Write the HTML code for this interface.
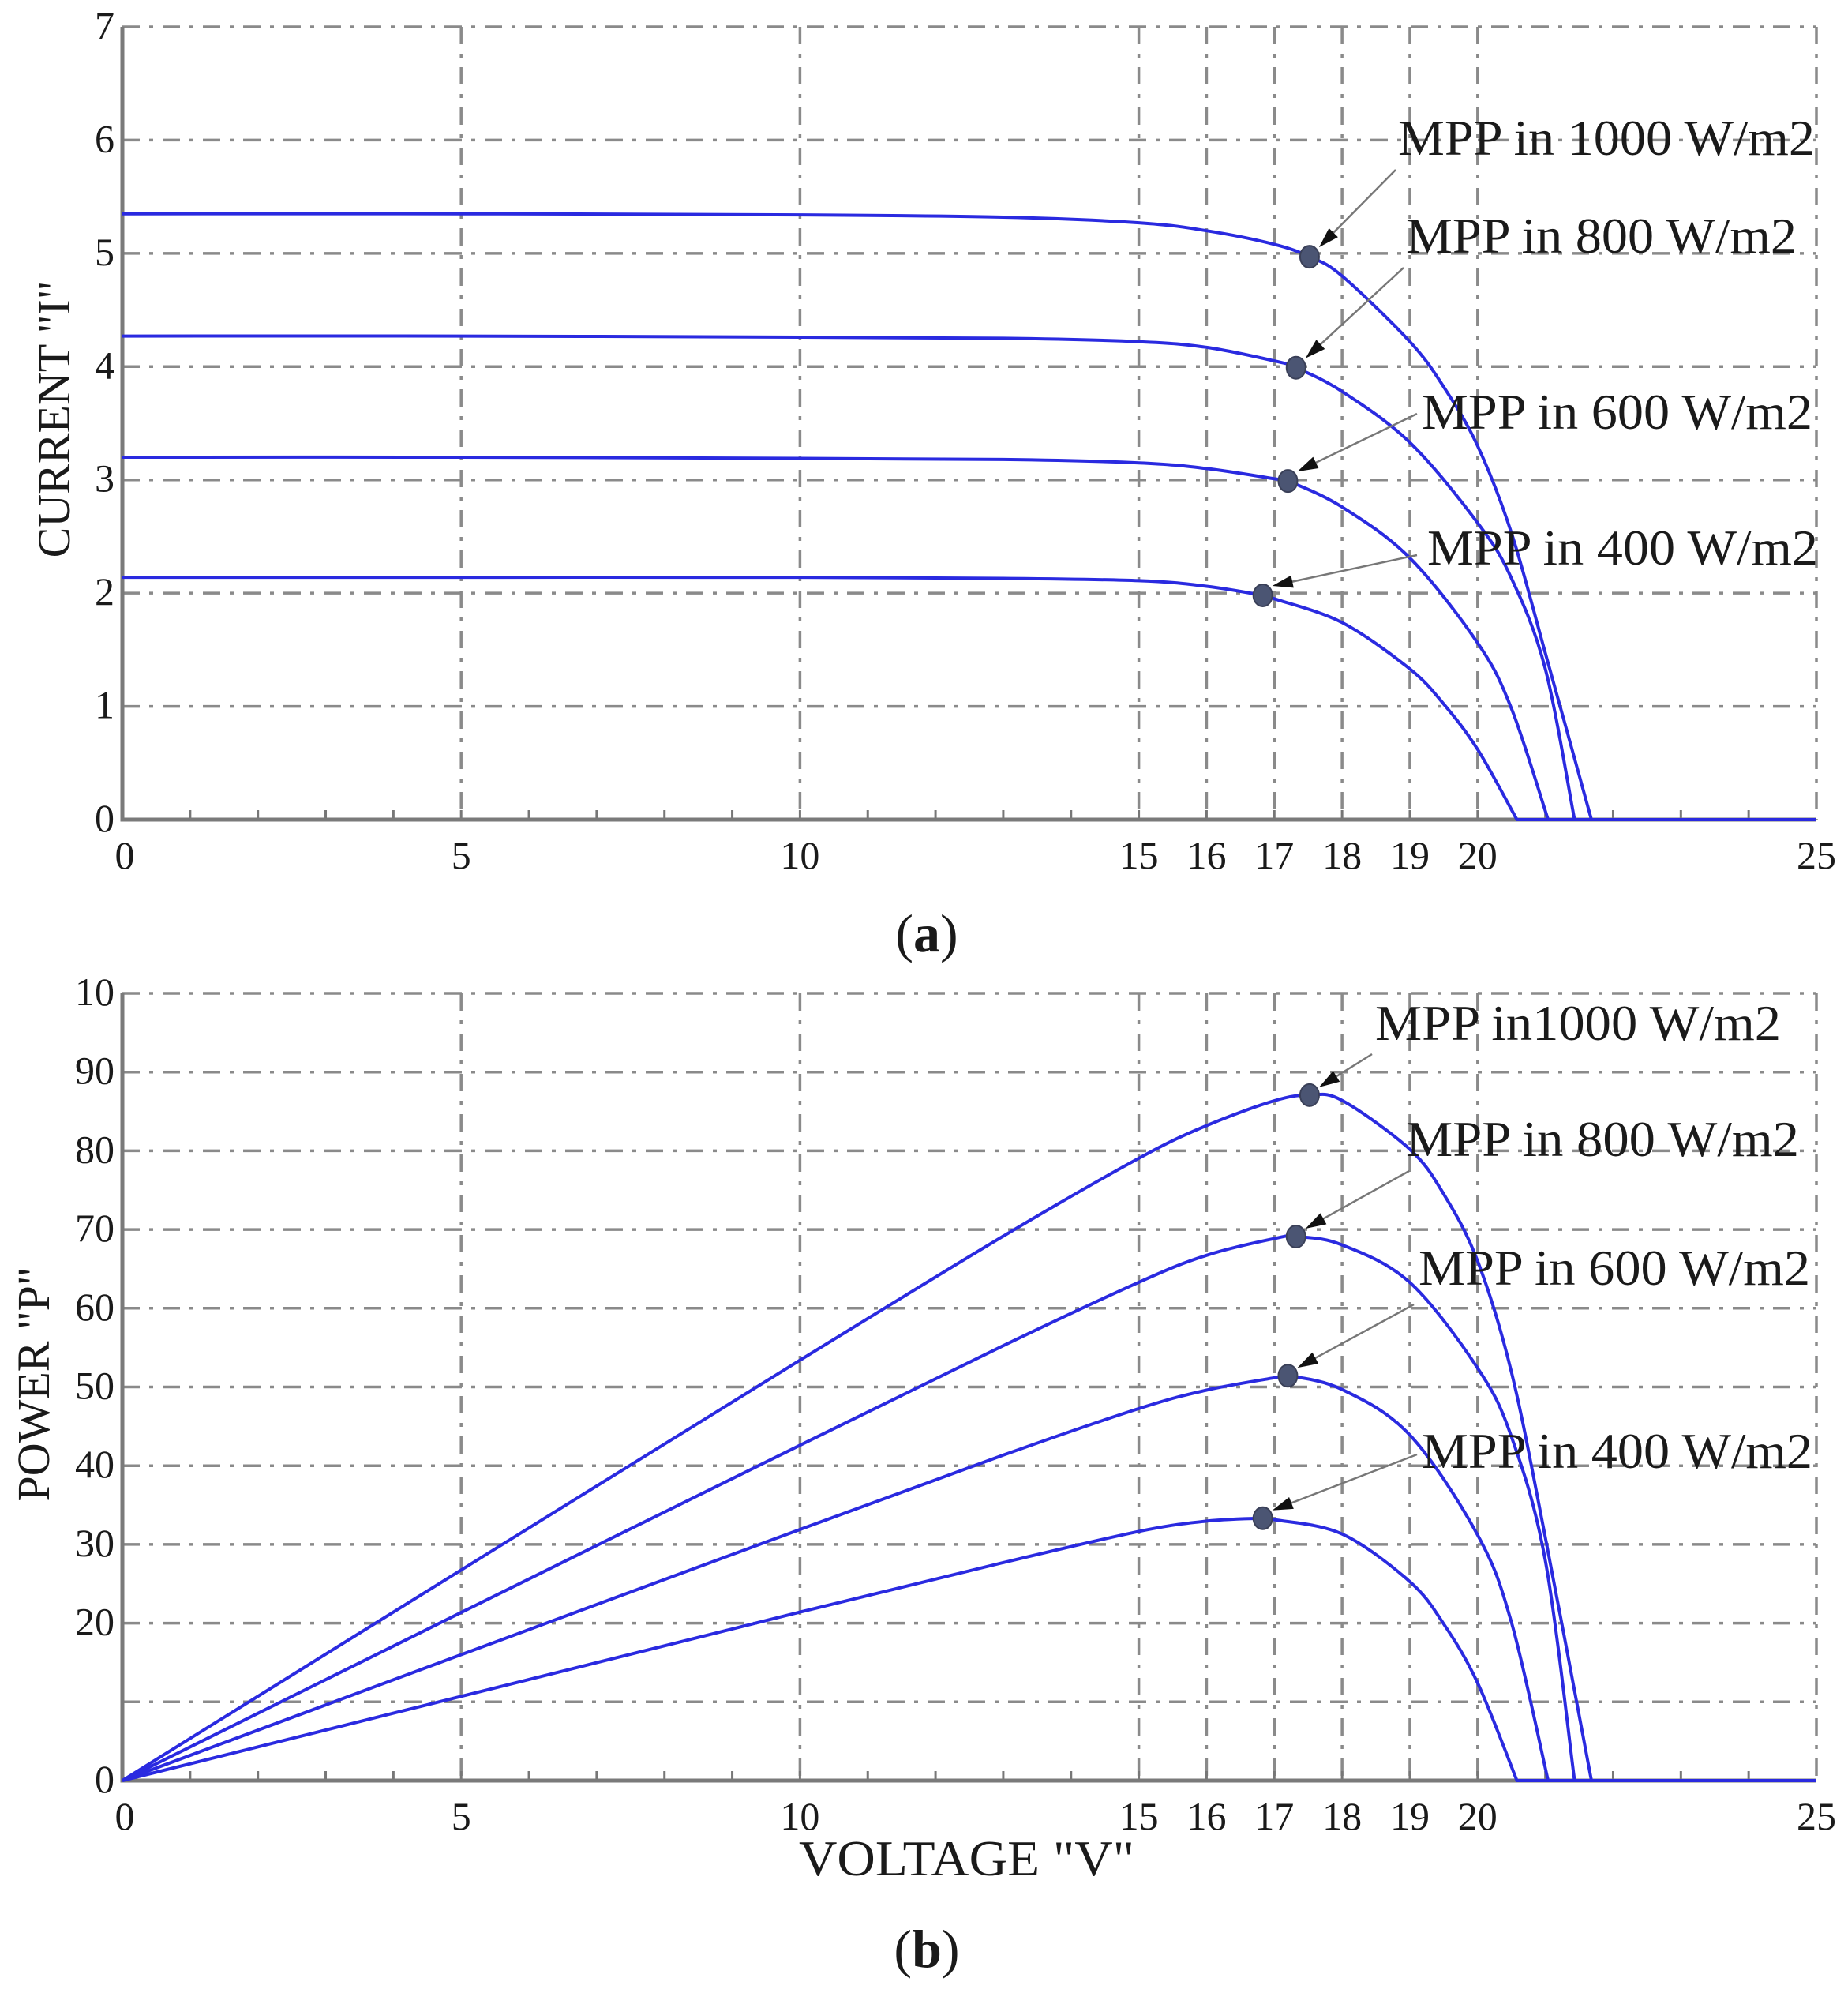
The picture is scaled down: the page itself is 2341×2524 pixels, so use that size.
<!DOCTYPE html>
<html><head><meta charset="utf-8">
<style>
html,body{margin:0;padding:0;background:#fff;}
svg{display:block;}
text{font-family:"Liberation Serif",serif;fill:#1a1a1a;}
</style></head>
<body>
<svg id="chart" width="2341" height="2524" viewBox="0 0 2341 2524" xmlns="http://www.w3.org/2000/svg">
<rect x="0" y="0" width="2341" height="2524" fill="#fff"/>
</svg>
<script>
// ---- data ----
const irradianceLabels = ["1000", "800", "600", "400"];
const v1000 = [0, 5, 10, 13, 15, 16, 17, 17.52, 18, 19, 19.5, 20, 20.5, 21, 21.68];
const i1000 = [5.35, 5.35, 5.34, 5.32, 5.27, 5.2, 5.08, 4.97, 4.8, 4.22, 3.82, 3.3, 2.53, 1.47, 0];
const v800 = [0, 5, 10, 13, 15, 16, 17, 17.32, 18, 19, 20, 20.5, 21, 21.43];
const i800 = [4.27, 4.27, 4.26, 4.25, 4.22, 4.17, 4.05, 3.99, 3.78, 3.33, 2.62, 2.13, 1.33, 0];
const v600 = [0, 5, 10, 13, 15, 16, 17, 17.2, 18, 19, 20, 20.5, 21.04];
const i600 = [3.2, 3.2, 3.19, 3.18, 3.15, 3.1, 3.01, 2.99, 2.76, 2.31, 1.56, 0.98, 0];
const v400 = [0, 5, 10, 13, 15, 16, 16.83, 17, 18, 19, 19.5, 20, 20.58];
const i400 = [2.14, 2.14, 2.14, 2.13, 2.11, 2.06, 1.98, 1.95, 1.74, 1.33, 1.02, 0.62, 0];
const mppV = [17.52, 17.32, 17.2, 16.83];
const mppI = [4.97, 3.99, 2.99, 1.98];
const xTickLabels = ["0", "5", "10", "15", "16", "17", "18", "19", "20", "25"];
const xTickValues = [0, 5, 10, 15, 16, 17, 18, 19, 20, 25];
const iTickValues = [0, 1, 2, 3, 4, 5, 6, 7];
const pTickValues = [0, 10, 20, 30, 40, 50, 60, 70, 80, 90, 100];
const pTickLabels = ["0", "", "20", "30", "40", "50", "60", "70", "80", "90", "10"];

// ---- layout ----
const NS = "http://www.w3.org/2000/svg";
const svg = document.getElementById("chart");
const X0 = 155, X1 = 2301;
const xs = v => X0 + (X1 - X0) * v / 25;
const A = {top: 34, bot: 1038, max: 7};
const B = {top: 1258, bot: 2255, max: 100};
const ya = v => A.bot - (A.bot - A.top) * v / A.max;
const yb = v => B.bot - (B.bot - B.top) * v / B.max;
const volts = [v1000, v800, v600, v400];
const currs = [i1000, i800, i600, i400];

function el(tag, attrs, parent) {
  const e = document.createElementNS(NS, tag);
  for (const k in attrs) e.setAttribute(k, attrs[k]);
  (parent || svg).appendChild(e);
  return e;
}
function smoothPath(pts) {
  let d = "M" + pts[0][0].toFixed(1) + "," + pts[0][1].toFixed(1);
  for (let i = 0; i < pts.length - 1; i++) {
    const p0 = pts[Math.max(0, i - 1)], p1 = pts[i], p2 = pts[i + 1], p3 = pts[Math.min(pts.length - 1, i + 2)];
    const c1x = p1[0] + (p2[0] - p0[0]) / 6, c1y = p1[1] + (p2[1] - p0[1]) / 6;
    const c2x = p2[0] - (p3[0] - p1[0]) / 6, c2y = p2[1] - (p3[1] - p1[1]) / 6;
    d += " C" + c1x.toFixed(1) + "," + c1y.toFixed(1) + " " + c2x.toFixed(1) + "," + c2y.toFixed(1) + " " + p2[0].toFixed(1) + "," + p2[1].toFixed(1);
  }
  return d;
}

function drawPanel(P, ys, yTicks, yLabels, name) {
  const g = el("g", {});
  
  
  yTicks.forEach((t, k) => {
    if (k === 0) return;
    const ln = el("line", {x1: X0, x2: X1, y1: ys(t), y2: ys(t), stroke: "#8a8a8a", "stroke-width": 3.5, "stroke-dasharray": "22,12,5,12"}, g);
    
    
  });
  xTickValues.forEach((t, k) => {
    if (k === 0) return;
    const ln = el("line", {x1: xs(t), x2: xs(t), y1: P.top, y2: P.bot, stroke: "#8a8a8a", "stroke-width": 3.5, "stroke-dasharray": "22,12,5,12"}, g);
    
    
  });
  for (let v = 1; v < 25; v++) {
    const tk = el("line", {x1: xs(v), x2: xs(v), y1: P.bot, y2: P.bot - 12, stroke: "#777", "stroke-width": 3}, g);
    
    
  }
  const ax = el("path", {d: "M" + X0 + "," + P.top + " L" + X0 + "," + P.bot + " L" + X1 + "," + P.bot, fill: "none", stroke: "#7a7a7a", "stroke-width": 5}, g);
  
  
  yTicks.forEach((t, k) => {
    const tx = el("text", {x: 145, y: ys(t) + 15, "text-anchor": "end", "font-size": 50}, g);
    tx.textContent = yLabels[k];
    
    
  });
  xTickValues.forEach((t, k) => {
    const tx = el("text", {x: xs(t) + (k === 0 ? 3 : 0), y: P.bot + 62, "text-anchor": "middle", "font-size": 50}, g);
    tx.textContent = xTickLabels[k];
    
    
  });
  return g;
}

const ga = drawPanel(A, ya, iTickValues, iTickValues.map(String), "iv-panel");
const gb = drawPanel(B, yb, pTickValues, pTickLabels, "pv-panel");

volts.forEach((vs, c) => {
  const is = currs[c];
  const ptsA = vs.map((v, k) => [xs(v), ya(is[k])]);
  const pa = el("path", {d: smoothPath(ptsA) + " L" + xs(25) + "," + ya(0), fill: "none", stroke: "#2a2ae0", "stroke-width": 4}, ga);
  
  
  const ptsB = vs.map((v, k) => [xs(v), yb(v * is[k])]);
  const pb = el("path", {d: smoothPath(ptsB) + " L" + xs(25) + "," + yb(0), fill: "none", stroke: "#2a2ae0", "stroke-width": 4}, gb);
  
  
});

const annA = [[1771, 196, 528], [1781, 320, 495], [1801, 543, 495], [1808, 715, 495]];
const annB = [[1742, 1317, 514], [1781, 1464, 498], [1797, 1627, 496], [1801, 1859, 495]];
const textsA = ["MPP in 1000 W/m2", "MPP in 800 W/m2", "MPP in 600 W/m2", "MPP in 400 W/m2"];
const textsB = ["MPP in1000 W/m2", "MPP in 800 W/m2", "MPP in 600 W/m2", "MPP in 400 W/m2"];
const arrowStartA = [[1768, 215], [1778, 339], [1795, 524], [1795, 703]];
const arrowStartB = [[1738, 1335], [1785, 1483], [1791, 1652], [1795, 1842]];

function arrow(g, x1, y1, x2, y2, nm) {
  const dx = x2 - x1, dy = y2 - y1, L = Math.hypot(dx, dy), ux = dx / L, uy = dy / L;
  const ln = el("line", {x1: x1, y1: y1, x2: x2 - ux * 20, y2: y2 - uy * 20, stroke: "#777", "stroke-width": 2.5}, g);
  
  
  const bx = x2 - ux * 26, by = y2 - uy * 26, px = -uy * 8, py = ux * 8;
  const hd = el("polygon", {points: x2 + "," + y2 + " " + (bx + px) + "," + (by + py) + " " + (bx - px) + "," + (by - py), fill: "#111"}, g);
  
  
}

mppV.forEach((v, c) => {
  const ma = el("ellipse", {cx: xs(v), cy: ya(mppI[c]), rx: 12, ry: 14, fill: "#4b5573", stroke: "#3a4058", "stroke-width": 2}, ga);
  
  
  const mb = el("ellipse", {cx: xs(v), cy: yb(v * mppI[c]), rx: 12, ry: 14, fill: "#4b5573", stroke: "#3a4058", "stroke-width": 2}, gb);
  
  
  arrow(ga, arrowStartA[c][0], arrowStartA[c][1], xs(v) + 12, ya(mppI[c]) - 12, 'mpp-arrow-iv');
  arrow(gb, arrowStartB[c][0], arrowStartB[c][1], xs(v) + 12, yb(v * mppI[c]) - 10, 'mpp-arrow-pv');
  const ta = el("text", {x: annA[c][0], y: annA[c][1], "font-size": 64, textLength: annA[c][2], lengthAdjust: "spacingAndGlyphs"}, ga);
  ta.textContent = textsA[c];
  
  
  const tb = el("text", {x: annB[c][0], y: annB[c][1], "font-size": 64, textLength: annB[c][2], lengthAdjust: "spacingAndGlyphs"}, gb);
  tb.textContent = textsB[c];
  
  
});

const t1 = el("text", {x: 0, y: 0, "font-size": 58, "text-anchor": "middle", transform: "translate(88,531) rotate(-90)"});
t1.textContent = 'CURRENT "I"';


const t2 = el("text", {x: 0, y: 0, "font-size": 58, "text-anchor": "middle", transform: "translate(62,1753) rotate(-90)"});
t2.textContent = 'POWER "P"';


const t3 = el("text", {x: 1012, y: 2375, "font-size": 64, textLength: 425, lengthAdjust: "spacingAndGlyphs"});
t3.textContent = 'VOLTAGE "V"';


const c1 = el("text", {x: 1174, y: 1205, "font-size": 68, "text-anchor": "middle"});
c1.innerHTML = '(<tspan font-weight="bold">a</tspan>)';


const c2 = el("text", {x: 1174, y: 2491, "font-size": 68, "text-anchor": "middle"});
c2.innerHTML = '(<tspan font-weight="bold">b</tspan>)';


</script>
</body></html>
